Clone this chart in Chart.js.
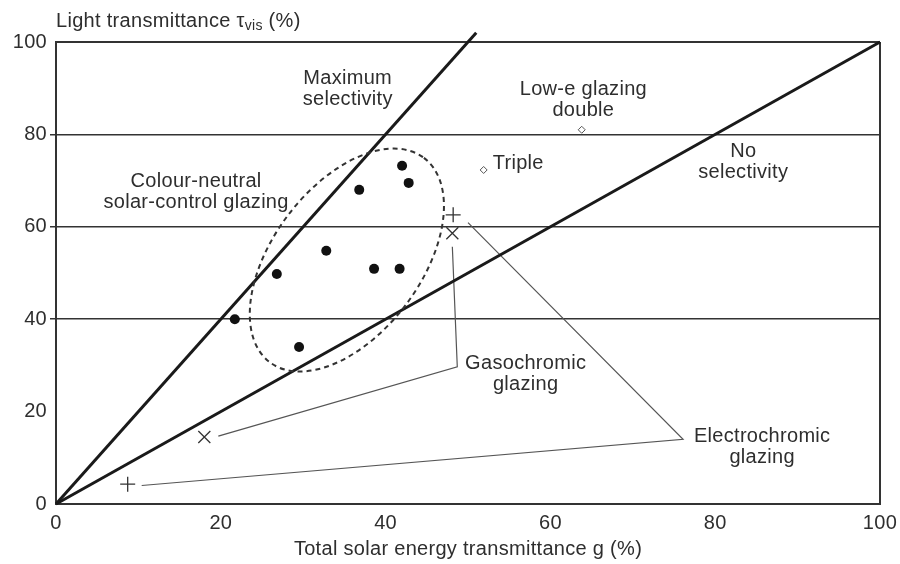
<!DOCTYPE html>
<html>
<head>
<meta charset="utf-8">
<script src="https://cdn.jsdelivr.net/npm/chart.js@4"></script>
<style>
html, body { margin: 0; padding: 0; background: #fff; }
</style>
</head>
<body>
<canvas id="chart" width="900" height="564"></canvas>
<script>
// values (g %, tau_vis %)
const neutralG   = [21.7, 26.8, 29.5, 32.8, 36.8, 38.6, 41.7, 42.0, 42.8];
const neutralTau = [40.0, 49.8, 34.0, 54.8, 68.0, 50.9, 50.9, 73.2, 69.5];
const gasoG   = [18.0, 48.1];
const gasoTau = [14.5, 58.6];
const electroG   = [8.7, 48.2];
const electroTau = [4.3, 62.6];
const lowEG   = [63.8, 51.9];
const lowETau = [81.0, 72.3];
const maxSelG   = [0, 51];
const maxSelTau = [0, 102];
const noSelG   = [0, 100];
const noSelTau = [0, 100];
const gasoLeaderG   = [48.1, 48.7, 19.7];
const gasoLeaderTau = [55.7, 29.7, 14.7];
const electroLeaderG   = [50.0, 76.1, 10.4];
const electroLeaderTau = [60.9, 14.0, 4.0];
const axisTicks = [0, 20, 40, 60, 80, 100];
const gridValues = [40, 60, 80];

const pts = (xs, ys) => xs.map((x, i) => ({ x: x, y: ys[i] }));

const FONT = '"Liberation Sans", Arial, Helvetica, sans-serif';
const FSIZE = 20;
const INK = '#2e2e2e';

// labels placed in data units
const notes = [
    { x: 35.4, y: 92.2, lines: ['Maximum', 'selectivity'] },
    { x: 64.0, y: 89.8, lines: ['Low-e glazing', 'double'] },
    { x: 53.0, y: 73.6, lines: ['Triple'], align: 'left' },
    { x: 83.4, y: 76.4, lines: ['No', 'selectivity'] },
    { x: 17.0, y: 69.9, lines: ['Colour-neutral', 'solar-control glazing'] },
    { x: 57.0, y: 30.5, lines: ['Gasochromic', 'glazing'] },
    { x: 85.7, y: 14.7, lines: ['Electrochromic', 'glazing'] }
];

const extras = {
    id: 'extras',
    beforeDraw(chart) {
        chart.ctx.letterSpacing = '0.3px';
    },
    afterDatasetsDraw(chart) {
        const ctx = chart.ctx;
        const xs = chart.scales.x, ys = chart.scales.y;

        // dashed ellipse round the colour-neutral group
        const cx = xs.getPixelForValue(35.3), cy = ys.getPixelForValue(52.8);
        ctx.save();
        ctx.strokeStyle = '#333';
        ctx.lineWidth = 2;
        ctx.setLineDash([5, 4]);
        ctx.beginPath();
        ctx.ellipse(cx, cy, 128, 74, -53 * Math.PI / 180, 0, Math.PI * 2);
        ctx.stroke();
        ctx.restore();
    },
    afterDraw(chart) {
        const ctx = chart.ctx;
        const xs = chart.scales.x, ys = chart.scales.y;
        ctx.save();
        ctx.fillStyle = INK;
        ctx.textBaseline = 'middle';
        ctx.font = FSIZE + 'px ' + FONT;
        notes.forEach(n => {
            ctx.textAlign = n.align || 'center';
            const px = xs.getPixelForValue(n.x);
            const py = ys.getPixelForValue(n.y);
            n.lines.forEach((t, i) => ctx.fillText(t, px, py + i * 21));
        });

        // y axis title with subscript
        ctx.textAlign = 'left';
        let x = chart.chartArea.left;
        const y = 21;
        const a = 'Light transmittance \u03c4';
        ctx.fillText(a, x, y);
        x += ctx.measureText(a).width;
        ctx.font = '14px ' + FONT;
        ctx.fillText('vis', x, y + 5);
        x += ctx.measureText('vis').width;
        ctx.font = FSIZE + 'px ' + FONT;
        ctx.fillText(' (%)', x, y);
        ctx.restore();
    }
};

new Chart(document.getElementById('chart'), {
    type: 'scatter',
    data: {
        datasets: [
            {
                data: pts(neutralG, neutralTau),
                pointStyle: 'circle', pointRadius: 5,
                backgroundColor: '#111', borderColor: '#111', borderWidth: 0
            },
            {
                data: pts(gasoG, gasoTau),
                pointStyle: 'crossRot', pointRadius: 8.5,
                borderColor: '#333', borderWidth: 1.3
            },
            {
                data: pts(electroG, electroTau),
                pointStyle: 'cross', pointRadius: 7.5,
                borderColor: '#333', borderWidth: 1.3
            },
            {
                data: pts(lowEG, lowETau),
                pointStyle: 'rectRot', pointRadius: 3.5,
                backgroundColor: '#fff', borderColor: '#555', borderWidth: 1
            },
            {
                data: pts(maxSelG, maxSelTau),
                showLine: true, pointRadius: 0, clip: false,
                borderColor: '#1a1a1a', borderWidth: 3
            },
            {
                data: pts(noSelG, noSelTau),
                showLine: true, pointRadius: 0, clip: false,
                borderColor: '#1a1a1a', borderWidth: 3
            },
            {
                data: pts(gasoLeaderG, gasoLeaderTau),
                showLine: true, pointRadius: 0,
                borderColor: '#555', borderWidth: 1.2
            },
            {
                data: pts(electroLeaderG, electroLeaderTau),
                showLine: true, pointRadius: 0,
                borderColor: '#555', borderWidth: 1.2
            }
        ]
    },
    options: {
        responsive: false,
        animation: false,
        events: [],
        layout: { padding: { top: 42, right: 20, left: 0, bottom: 0 } },
        plugins: { legend: { display: false }, tooltip: { enabled: false } },
        scales: {
            x: {
                type: 'linear', min: 0, max: 100,
                afterBuildTicks: s => { s.ticks = axisTicks.map(v => ({ value: v })); },
                afterFit: s => { s.height = 60; s.paddingRight = 0; s.paddingLeft = 0; },
                border: { display: true, color: '#333', width: 2 },
                grid: {
                    drawTicks: false,
                    color: c => c.tick && c.tick.value === 100 ? '#333' : 'rgba(0,0,0,0)',
                    lineWidth: 2
                },
                ticks: { color: INK, padding: 7, font: { family: FONT, size: FSIZE } },
                title: {
                    display: true, text: 'Total solar energy transmittance g (%)',
                    color: INK, font: { family: FONT, size: FSIZE }, padding: { top: 0, bottom: 3 }
                }
            },
            y: {
                type: 'linear', min: 0, max: 100,
                afterBuildTicks: s => { s.ticks = axisTicks.map(v => ({ value: v })); },
                afterFit: s => { s.width = 56; },
                border: { display: true, color: '#333', width: 2 },
                grid: {
                    drawTicks: true, tickLength: 6,
                    color: c => {
                        const v = c.tick && c.tick.value;
                        return gridValues.includes(v) || v === 100 ? '#333' : 'rgba(0,0,0,0)';
                    },
                    tickColor: c => gridValues.includes(c.tick && c.tick.value) ? '#333' : 'rgba(0,0,0,0)',
                    lineWidth: c => c.tick && c.tick.value === 100 ? 2 : 1.5
                },
                ticks: { color: INK, padding: 3, font: { family: FONT, size: FSIZE } }
            }
        }
    },
    plugins: [extras]
});
</script>
</body>
</html>
